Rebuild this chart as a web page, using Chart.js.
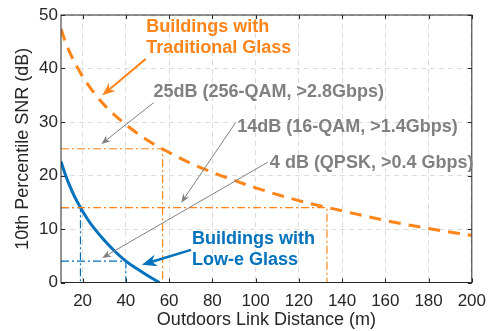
<!DOCTYPE html>
<html>
<head>
<meta charset="utf-8">
<script src="https://cdn.jsdelivr.net/npm/chart.js@4"></script>
<style>
  html, body { margin: 0; padding: 0; background: #fff; }
  #wrap { width: 495px; height: 331px; position: relative; }
</style>
</head>
<body>
<div id="wrap"><canvas id="myChart"></canvas></div>
<script>
// curves
var distOrange = [10, 12, 15, 20, 25, 30, 40, 50, 60, 70, 80, 90, 100, 120, 140, 160, 180, 200];
var snrOrange = [47.4, 45.0, 42.2, 38.5, 35.6, 33.2, 29.5, 26.6, 24.3, 22.3, 20.6, 19.1, 17.7, 15.3, 13.4, 11.6, 10.1, 8.8];
var distBlue = [10, 12, 14, 16, 19, 22, 25, 30, 35, 40, 45, 50, 55.5];
var snrBlue = [22.6, 20.2, 18.1, 16.3, 14.0, 12.0, 10.3, 7.9, 5.8, 4.0, 2.6, 1.3, 0];

// SNR targets and where each curve crosses them
var snrTargets = [25, 14, 4];
var orangeReach = [57, 133];
var blueReach = [19, 40];
var targetLabels = ['25dB (256-QAM, >2.8Gbps)', '14dB (16-QAM, >1.4Gbps)', '4 dB (QPSK, >0.4 Gbps)'];

var xTicks = [20, 40, 60, 80, 100, 120, 140, 160, 180, 200];
var yTicks = [0, 10, 20, 30, 40, 50];

var orange = '#FF8419';
var blue = '#0072BD';
var gray = '#808080';
var font = "'Liberation Sans', Arial, sans-serif";

function toPoints(xs, ys) {
    var pts = [];
    for (let i = 0; i < xs.length; i++) {
        pts.push({ x: xs[i], y: ys[i] });
    }
    return pts;
}

function dropLine(reach, target, color) {
    return {
        data: [{ x: 10, y: target }, { x: reach, y: target }, { x: reach, y: 0 }],
        borderColor: color,
        borderWidth: 1.2,
        borderDash: [8, 3, 2, 3],
        pointRadius: 0,
        tension: 0,
        fill: false
    };
}

var datasets = [
    dropLine(orangeReach[0], snrTargets[0], orange),
    dropLine(orangeReach[1], snrTargets[1], orange),
    dropLine(blueReach[0], snrTargets[1], blue),
    dropLine(blueReach[1], snrTargets[2], blue),
    {
        data: toPoints(distOrange, snrOrange),
        borderColor: orange,
        borderWidth: 3,
        borderDash: [12, 8],
        pointRadius: 0,
        cubicInterpolationMode: 'monotone',
        fill: false
    },
    {
        data: toPoints(distBlue, snrBlue),
        borderColor: blue,
        borderWidth: 3,
        pointRadius: 0,
        cubicInterpolationMode: 'monotone',
        fill: false
    }
];

// notes: [x, y] in data units
var notes = [
    { lines: ['Buildings with', 'Traditional Glass'], at: [49.4, 47.8], color: orange },
    { lines: [targetLabels[0]], at: [52.8, 35.6], color: gray },
    { lines: [targetLabels[1]], at: [91.5, 29.1], color: gray },
    { lines: [targetLabels[2]], at: [106.6, 22.3], color: gray },
    { lines: ['Buildings with', 'Low-e Glass'], at: [70.6, 8.1], color: blue }
];
var arrows = [
    { from: [49.2, 41.8], to: [29.1, 35.0], color: orange, width: 2, head: 13 },
    { from: [52.8, 33.6], to: [28.7, 25.9], color: gray, width: 1, head: 9 },
    { from: [90.6, 29.8], to: [65.6, 14.9], color: gray, width: 1, head: 9 },
    { from: [105.7, 22.5], to: [29.1, 4.6], color: gray, width: 1, head: 9 },
    { from: [70.1, 6.1], to: [47.4, 3.3], color: blue, width: 2.5, head: 15 }
];

function drawArrow(c, x1, y1, x2, y2, a) {
    var ang = Math.atan2(y2 - y1, x2 - x1);
    var h = a.head;
    var w = h * 0.4;
    var bx = x2 - h * Math.cos(ang), by = y2 - h * Math.sin(ang);
    c.save();
    c.strokeStyle = a.color;
    c.fillStyle = a.color;
    c.lineWidth = a.width;
    c.beginPath();
    c.moveTo(x1, y1);
    c.lineTo(bx + 0.3 * h * Math.cos(ang), by + 0.3 * h * Math.sin(ang));
    c.stroke();
    c.beginPath();
    c.moveTo(x2, y2);
    c.lineTo(bx - w * Math.sin(ang), by + w * Math.cos(ang));
    c.lineTo(x2 - 0.7 * h * Math.cos(ang), y2 - 0.7 * h * Math.sin(ang));
    c.lineTo(bx + w * Math.sin(ang), by - w * Math.cos(ang));
    c.closePath();
    c.fill();
    c.restore();
}

var extras = {
    id: 'extras',
    afterDatasetsDraw(chart) {
        var c = chart.ctx;
        var xs = chart.scales.x, ys = chart.scales.y;
        var area = chart.chartArea;

        // frame + inward ticks
        c.save();
        c.strokeStyle = '#262626';
        c.lineWidth = 1;
        c.strokeRect(area.left, area.top, area.right - area.left, area.bottom - area.top);
        c.beginPath();
        xTicks.forEach(function (t) {
            var px = Math.round(xs.getPixelForValue(t)) + 0.5;
            c.moveTo(px, area.bottom); c.lineTo(px, area.bottom - 4);
            c.moveTo(px, area.top); c.lineTo(px, area.top + 4);
        });
        yTicks.forEach(function (t) {
            var py = Math.round(ys.getPixelForValue(t)) + 0.5;
            c.moveTo(area.left, py); c.lineTo(area.left + 4, py);
            c.moveTo(area.right, py); c.lineTo(area.right - 4, py);
        });
        c.stroke();
        c.restore();

        arrows.forEach(function (a) {
            drawArrow(c,
                xs.getPixelForValue(a.from[0]), ys.getPixelForValue(a.from[1]),
                xs.getPixelForValue(a.to[0]), ys.getPixelForValue(a.to[1]), a);
        });

        c.save();
        c.font = 'bold 18px ' + font;
        c.textAlign = 'left';
        c.textBaseline = 'middle';
        notes.forEach(function (n) {
            c.fillStyle = n.color;
            var px = xs.getPixelForValue(n.at[0]);
            var py = ys.getPixelForValue(n.at[1]);
            n.lines.forEach(function (l, i) {
                c.fillText(l, px, py + i * 21);
            });
        });
        c.restore();
    }
};

const ctx = document.getElementById('myChart');
new Chart(ctx, {
    type: 'line',
    data: { datasets: datasets },
    plugins: [extras],
    options: {
        responsive: true,
        maintainAspectRatio: false,
        animation: false,
        layout: { padding: { top: 15, right: 17, left: 0, bottom: 0 } },
        plugins: { legend: { display: false }, tooltip: { enabled: false } },
        scales: {
            x: {
                type: 'linear',
                min: 10,
                max: 200,
                afterBuildTicks: function (s) { s.ticks = xTicks.map(function (v) { return { value: v }; }); },
                afterFit: function (s) { s.height = 48.5; },
                grid: { color: '#dcdcdc', drawTicks: false },
                border: { display: false, dash: [5, 4] },
                ticks: { color: '#262626', padding: 9, font: { size: 17, family: font }, maxRotation: 0 },
                title: { display: true, text: 'Outdoors Link Distance (m)', color: '#262626',
                         font: { size: 18, family: font }, padding: { top: 0, bottom: 0 } }
            },
            y: {
                min: 0,
                max: 50,
                afterBuildTicks: function (s) { s.ticks = yTicks.map(function (v) { return { value: v }; }); },
                afterFit: function (s) { s.width = 61; },
                grid: { color: '#dcdcdc', drawTicks: false },
                border: { display: false, dash: [5, 4] },
                ticks: { color: '#262626', padding: 3, font: { size: 17, family: font } },
                title: { display: true, text: '10th Percentile SNR (dB)', color: '#262626',
                         font: { size: 18, family: font }, padding: { top: 12, bottom: 0 } }
            }
        }
    }
});
</script>
</body>
</html>
